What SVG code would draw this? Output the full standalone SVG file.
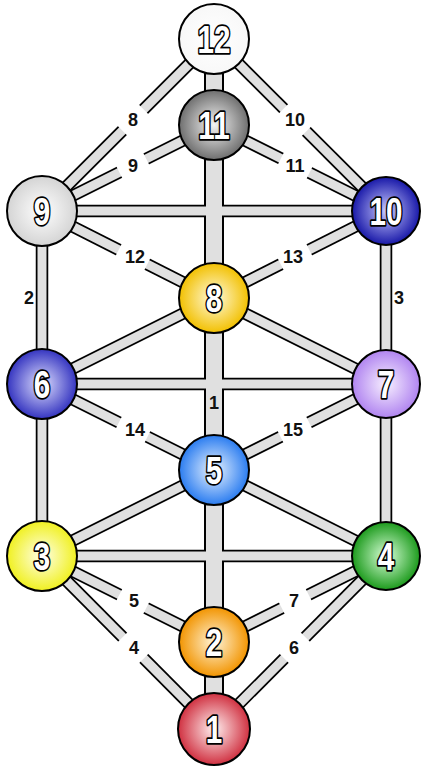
<svg xmlns="http://www.w3.org/2000/svg" xmlns:xlink="http://www.w3.org/1999/xlink" width="422" height="768" viewBox="0 0 422 768">
<style>
.o{fill:none;stroke:#000;stroke-width:12.5}
.i{fill:none;stroke:#e0e0e0;stroke-width:9}
.oc{fill:none;stroke:#000;stroke-width:20}
.ic{fill:none;stroke:#e0e0e0;stroke-width:16}
.gap{fill:#fff}
.lb{font-family:"Liberation Sans",Arial,sans-serif;font-weight:bold;font-size:18px;fill:#111;text-anchor:middle}
.nd circle{stroke:#000;stroke-width:2}
.n{font-family:"Liberation Sans",Arial,sans-serif;font-weight:bold;font-size:39px;fill:#fff;stroke:#000;stroke-width:3.5;stroke-linejoin:round;paint-order:stroke fill;text-anchor:middle}
</style>
<defs>
<radialGradient id="g12" cx="0.5" cy="0.5" r="0.5"><stop offset="0" stop-color="#fff"/><stop offset="1" stop-color="#f8f8f8"/></radialGradient>
<radialGradient id="g11" cx="0.5" cy="0.5" r="0.5"><stop offset="0" stop-color="#f4f4f4"/><stop offset="1" stop-color="#6e6e6e"/></radialGradient>
<radialGradient id="g9" cx="0.5" cy="0.5" r="0.5"><stop offset="0" stop-color="#fff"/><stop offset="1" stop-color="#d4d4d4"/></radialGradient>
<radialGradient id="g10" cx="0.5" cy="0.5" r="0.5"><stop offset="0" stop-color="#c8c8ff"/><stop offset="1" stop-color="#1818a8"/></radialGradient>
<radialGradient id="g8" cx="0.5" cy="0.5" r="0.5"><stop offset="0" stop-color="#fffbe0"/><stop offset="1" stop-color="#f2c000"/></radialGradient>
<radialGradient id="g6" cx="0.5" cy="0.5" r="0.5"><stop offset="0" stop-color="#e0e0ff"/><stop offset="1" stop-color="#3434c0"/></radialGradient>
<radialGradient id="g7" cx="0.5" cy="0.5" r="0.5"><stop offset="0" stop-color="#f8f0ff"/><stop offset="1" stop-color="#b084f0"/></radialGradient>
<radialGradient id="g5" cx="0.5" cy="0.5" r="0.5"><stop offset="0" stop-color="#eaf4ff"/><stop offset="1" stop-color="#2a7cf0"/></radialGradient>
<radialGradient id="g3" cx="0.5" cy="0.5" r="0.5"><stop offset="0" stop-color="#ffffe8"/><stop offset="1" stop-color="#f0f020"/></radialGradient>
<radialGradient id="g4" cx="0.5" cy="0.5" r="0.5"><stop offset="0" stop-color="#d8ffd8"/><stop offset="1" stop-color="#1c9a1c"/></radialGradient>
<radialGradient id="g2" cx="0.5" cy="0.5" r="0.5"><stop offset="0" stop-color="#fff4d8"/><stop offset="1" stop-color="#f29400"/></radialGradient>
<radialGradient id="g1" cx="0.5" cy="0.5" r="0.5"><stop offset="0" stop-color="#fff0f0"/><stop offset="1" stop-color="#d03040"/></radialGradient>
<path id="cc" d="M214 39V729"/>
<path id="c1" d="M214 39L42 211"/>
<path id="c2" d="M214 39L386 211"/>
<path id="c3" d="M214 125L42 211"/>
<path id="c4" d="M214 125L386 211"/>
<path id="c5" d="M42 211H386"/>
<path id="c6" d="M42 211L214 298"/>
<path id="c7" d="M386 211L214 298"/>
<path id="c8" d="M42 211V556"/>
<path id="c9" d="M386 211V556"/>
<path id="c10" d="M214 298L42 384"/>
<path id="c11" d="M214 298L386 384"/>
<path id="c12" d="M42 384H386"/>
<path id="c13" d="M42 384L214 470"/>
<path id="c14" d="M386 384L214 470"/>
<path id="c15" d="M214 470L42 556"/>
<path id="c16" d="M214 470L386 556"/>
<path id="c17" d="M42 556H386"/>
<path id="c18" d="M42 556L214 642"/>
<path id="c19" d="M386 556L214 642"/>
<path id="c20" d="M42 556L214 729"/>
<path id="c21" d="M386 556L214 729"/>
</defs>
<rect width="422" height="768" fill="#fff"/>
<g id="connectors">
<g class="o">
<use xlink:href="#c1"/><use xlink:href="#c2"/><use xlink:href="#c3"/><use xlink:href="#c4"/><use xlink:href="#c5"/><use xlink:href="#c6"/><use xlink:href="#c7"/><use xlink:href="#c8"/><use xlink:href="#c9"/><use xlink:href="#c10"/><use xlink:href="#c11"/><use xlink:href="#c12"/><use xlink:href="#c13"/><use xlink:href="#c14"/><use xlink:href="#c15"/><use xlink:href="#c16"/><use xlink:href="#c17"/><use xlink:href="#c18"/><use xlink:href="#c19"/><use xlink:href="#c20"/><use xlink:href="#c21"/>
</g>
<use xlink:href="#cc" class="oc"/>
<g class="i">
<use xlink:href="#c1"/><use xlink:href="#c2"/><use xlink:href="#c3"/><use xlink:href="#c4"/><use xlink:href="#c5"/><use xlink:href="#c6"/><use xlink:href="#c7"/><use xlink:href="#c8"/><use xlink:href="#c9"/><use xlink:href="#c10"/><use xlink:href="#c11"/><use xlink:href="#c12"/><use xlink:href="#c13"/><use xlink:href="#c14"/><use xlink:href="#c15"/><use xlink:href="#c16"/><use xlink:href="#c17"/><use xlink:href="#c18"/><use xlink:href="#c19"/><use xlink:href="#c20"/><use xlink:href="#c21"/>
</g>
<use xlink:href="#cc" class="ic"/>
<g id="labels">
<rect class="gap" x="-15" y="-9" width="30" height="18" transform="translate(133 120) rotate(-45)"/>
<rect class="gap" x="-15" y="-9" width="30" height="18" transform="translate(133 166) rotate(-26.6)"/>
<rect class="gap" x="-16" y="-9" width="32" height="18" transform="translate(295 120) rotate(45)"/>
<rect class="gap" x="-16" y="-9" width="32" height="18" transform="translate(295 166) rotate(26.6)"/>
<rect class="gap" x="-16" y="-9" width="32" height="18" transform="translate(133 257) rotate(26.8)"/>
<rect class="gap" x="-16" y="-9" width="32" height="18" transform="translate(295 257) rotate(-26.8)"/>
<rect class="gap" x="-16" y="-9" width="32" height="18" transform="translate(133 430) rotate(26.6)"/>
<rect class="gap" x="-16" y="-9" width="32" height="18" transform="translate(295 430) rotate(-26.6)"/>
<rect class="gap" x="-15" y="-9" width="30" height="18" transform="translate(133 601) rotate(26.8)"/>
<rect class="gap" x="-15" y="-9" width="30" height="18" transform="translate(295 601) rotate(-26.8)"/>
<rect class="gap" x="-15" y="-9" width="30" height="18" transform="translate(133 648) rotate(45.2)"/>
<rect class="gap" x="-15" y="-9" width="30" height="18" transform="translate(295 648) rotate(-45.2)"/>
<text class="lb" x="133" y="126">8</text>
<text class="lb" x="133" y="172">9</text>
<text class="lb" x="295" y="126">10</text>
<text class="lb" x="295" y="172">11</text>
<text class="lb" x="135" y="263">12</text>
<text class="lb" x="293" y="263">13</text>
<text class="lb" x="135" y="436">14</text>
<text class="lb" x="293" y="436">15</text>
<text class="lb" x="134" y="607">5</text>
<text class="lb" x="294" y="607">7</text>
<text class="lb" x="134" y="654">4</text>
<text class="lb" x="294" y="654">6</text>
<text class="lb" x="29" y="304">2</text>
<text class="lb" x="399" y="304">3</text>
<text class="lb" x="214" y="409">1</text>
</g>
</g>
<g id="node12" class="nd"><circle cx="214" cy="39" r="35" fill="url(#g12)"/><text class="n" transform="translate(214 53) scale(0.76 1)">12</text></g>
<g id="node11" class="nd"><circle cx="214" cy="125" r="35" fill="url(#g11)"/><text class="n" transform="translate(214 139) scale(0.76 1)">11</text></g>
<g id="node9" class="nd"><circle cx="42" cy="211" r="35" fill="url(#g9)"/><text class="n" transform="translate(42 225) scale(0.76 1)">9</text></g>
<g id="node10" class="nd"><circle cx="386" cy="211" r="34" fill="url(#g10)"/><text class="n" transform="translate(386 225) scale(0.76 1)">10</text></g>
<g id="node8" class="nd"><circle cx="214" cy="298" r="35" fill="url(#g8)"/><text class="n" transform="translate(214 312) scale(0.76 1)">8</text></g>
<g id="node6" class="nd"><circle cx="42" cy="384" r="35" fill="url(#g6)"/><text class="n" transform="translate(42 398) scale(0.76 1)">6</text></g>
<g id="node7" class="nd"><circle cx="386" cy="384" r="34" fill="url(#g7)"/><text class="n" transform="translate(386 398) scale(0.76 1)">7</text></g>
<g id="node5" class="nd"><circle cx="214" cy="470" r="35" fill="url(#g5)"/><text class="n" transform="translate(214 484) scale(0.76 1)">5</text></g>
<g id="node3" class="nd"><circle cx="42" cy="556" r="35" fill="url(#g3)"/><text class="n" transform="translate(42 570) scale(0.76 1)">3</text></g>
<g id="node4" class="nd"><circle cx="386" cy="556" r="34" fill="url(#g4)"/><text class="n" transform="translate(386 570) scale(0.76 1)">4</text></g>
<g id="node2" class="nd"><circle cx="214" cy="642" r="35" fill="url(#g2)"/><text class="n" transform="translate(214 656) scale(0.76 1)">2</text></g>
<g id="node1" class="nd"><circle cx="214" cy="729" r="36" fill="url(#g1)"/><text class="n" transform="translate(214 743) scale(0.76 1)">1</text></g>
</svg>
